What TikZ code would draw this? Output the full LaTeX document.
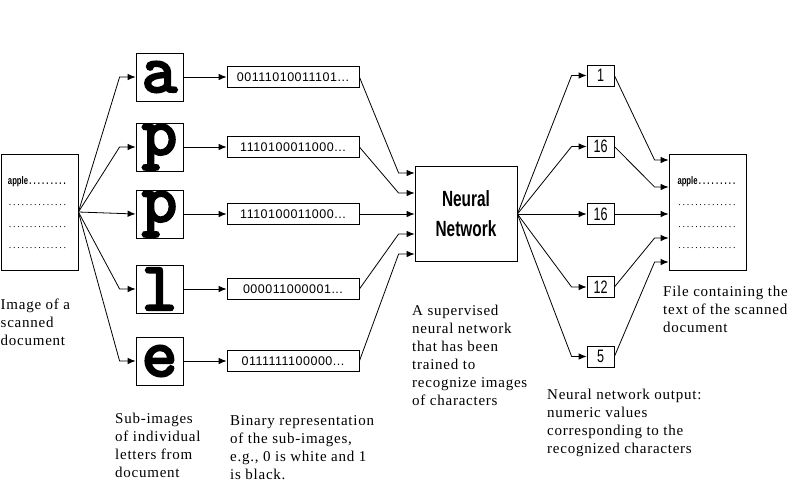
\documentclass[tikz,border=0pt]{standalone}
\usepackage{fontspec}
\setmainfont{Liberation Serif}[LetterSpace=5]
\newfontfamily\binfont{Liberation Sans}[LetterSpace=4]
\newfontfamily\nnfont{Liberation Sans}[FakeStretch=0.7]
\newfontfamily\glyphfont{Latin Modern Mono}[FakeBold=4]
\usetikzlibrary{arrows.meta}
\newcommand\docline[1]{\makebox[59pt][l]{#1\xleaders\hbox to 4pt{\hss.\hss}\hfill}}

\begin{document}
\begin{tikzpicture}[
    x=1pt, y=-1pt,
    box/.style={draw, line width=0.8pt, inner sep=0pt},
    page/.style={box, minimum width=77pt, minimum height=116pt},
    pagetext/.style={inner sep=0pt, align=left, font=\fontsize{10}{21.5}\selectfont},
    glyph/.style={box, minimum width=47pt, minimum height=48pt, font=\glyphfont\fontsize{68}{68}\selectfont},
    bits/.style={box, minimum width=132pt, minimum height=21pt, font=\binfont\fontsize{12.5}{14}\selectfont},
    net/.style={box, minimum width=102pt, minimum height=95pt, align=center, font=\nnfont\bfseries\fontsize{22}{30}\selectfont},
    val/.style={box, minimum width=27pt, minimum height=21pt, font=\nnfont\fontsize{18}{18}\selectfont},
    caption/.style={anchor=north west, inner sep=0pt, align=left, font=\fontsize{15}{18}\selectfont},
    arrow/.style={-{Latex[length=8pt,width=6.5pt]}, line width=0.8pt}
]
    \useasboundingbox (0,0) rectangle (802,496);

    % scanned page
    \node[page] (indoc) at (39.5,212) {};
    \node[pagetext] (intext) at (37.5,212.5) {\docline{\nnfont\bfseries\fontsize{11}{11}\selectfont apple}\\\docline{}\\\docline{}\\\docline{}};

    % sub-images
    \node[glyph] (la) at (159.5,77) {a};
    \node[glyph] (lp) at (159.5,147) {p};
    \node[glyph] (lq) at (159.5,214) {p};
    \node[glyph] (ll) at (159.5,289) {l};
    \node[glyph] (le) at (159.5,361) {e};

    % binary strings
    \node[bits] (ba) at (293,77) {00111010011101...};
    \node[bits] (bp) at (293,147) {1110100011000...};
    \node[bits] (bq) at (293,214) {1110100011000...};
    \node[bits] (bl) at (293,289) {000011000001...};
    \node[bits] (be) at (293,361) {0111111100000...};

    \node[net] (nn) at (466,214) {Neural\\Network};

    % outputs
    \node[val] (va) at (600.5,75.5) {1};
    \node[val] (vp) at (600.5,146.5) {16};
    \node[val] (vq) at (600.5,214) {16};
    \node[val] (vl) at (600.5,287) {12};
    \node[val] (ve) at (600.5,356.5) {5};

    \node[page] (outdoc) at (707.5,212) {};
    \node[pagetext] (outtext) at (707,212.5) {\docline{\nnfont\bfseries\fontsize{11}{11}\selectfont apple}\\\docline{}\\\docline{}\\\docline{}};

    % page -> sub-images
    \draw[arrow] (indoc.east) -- ([xshift=-16pt]la.west) -- (la.west);
    \draw[arrow] (indoc.east) -- ([xshift=-16pt]lp.west) -- (lp.west);
    \draw[arrow] (indoc.east) -- (lq.west);
    \draw[arrow] (indoc.east) -- ([xshift=-16pt]ll.west) -- (ll.west);
    \draw[arrow] (indoc.east) -- ([xshift=-16pt]le.west) -- (le.west);

    % sub-images -> binary
    \draw[arrow] (la) -- (ba);
    \draw[arrow] (lp) -- (bp);
    \draw[arrow] (lq) -- (bq);
    \draw[arrow] (ll) -- (bl);
    \draw[arrow] (le) -- (be);

    % binary -> network
    \draw[arrow] (ba.east) -- ([xshift=-16pt,yshift=41pt]nn.west) -- ([yshift=41pt]nn.west);
    \draw[arrow] (bp.east) -- ([xshift=-16pt,yshift=21pt]nn.west) -- ([yshift=21pt]nn.west);
    \draw[arrow] (bq.east) -- (nn.west);
    \draw[arrow] (bl.east) -- ([xshift=-16pt,yshift=-20pt]nn.west) -- ([yshift=-20pt]nn.west);
    \draw[arrow] (be.east) -- ([xshift=-16pt,yshift=-40pt]nn.west) -- ([yshift=-40pt]nn.west);

    % network -> outputs
    \draw[arrow] (nn.east) -- ([xshift=-15pt]va.west) -- (va.west);
    \draw[arrow] (nn.east) -- ([xshift=-15pt]vp.west) -- (vp.west);
    \draw[arrow] (nn.east) -- (vq.west);
    \draw[arrow] (nn.east) -- ([xshift=-15pt]vl.west) -- (vl.west);
    \draw[arrow] (nn.east) -- ([xshift=-15pt]ve.west) -- (ve.west);

    % outputs -> text file
    \draw[arrow] (va.east) -- ([xshift=-14pt,yshift=52pt]outdoc.west) -- ([yshift=52pt]outdoc.west);
    \draw[arrow] (vp.east) -- ([xshift=-14pt,yshift=25pt]outdoc.west) -- ([yshift=25pt]outdoc.west);
    \draw[arrow] (vq.east) -- ([yshift=-2pt]outdoc.west);
    \draw[arrow] (vl.east) -- ([xshift=-14pt,yshift=-26pt]outdoc.west) -- ([yshift=-26pt]outdoc.west);
    \draw[arrow] (ve.east) -- ([xshift=-14pt,yshift=-50pt]outdoc.west) -- ([yshift=-50pt]outdoc.west);

    % captions
    \node[caption] (capin) at (0.5,299) {Image of a\\scanned\\document};
    \node[caption] (capglyph) at (115,413) {Sub-images\\of individual\\letters from\\document};
    \node[caption] (capbits) at (230,415) {Binary representation\\of the sub-images,\\e.g., 0 is white and 1\\is black.};
    \node[caption] (capnet) at (412,305) {A supervised\\neural network\\that has been\\trained to\\recognize images\\of characters};
    \node[caption] (capval) at (547,389) {Neural network output:\\numeric values\\corresponding to the\\recognized characters};
    \node[caption] (capout) at (663,286) {File containing the\\text of the scanned\\document};
\end{tikzpicture}
\end{document}
